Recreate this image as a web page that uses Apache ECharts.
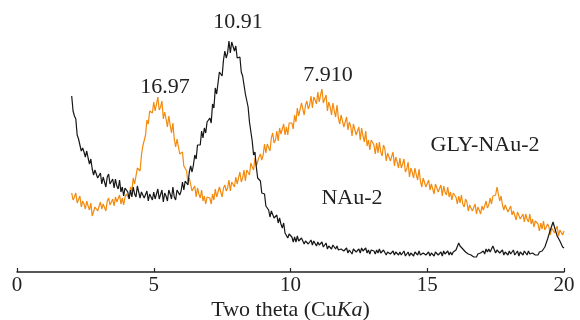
<!DOCTYPE html>
<html>
<head>
<meta charset="utf-8">
<script src="https://cdn.jsdelivr.net/npm/echarts@6/dist/echarts.min.js"></script>
<style>
  html, body { margin: 0; padding: 0; background: #fff; }
  #chart { width: 580px; height: 320px; }
</style>
</head>
<body>
<div id="chart"></div>
<script>
// scan: 2 to 20 degrees two theta, one reading every 0.05 deg
const thetaStart = 2;
const thetaStep = 0.05;
const xTicks = [0, 5, 10, 15, 20];

// NAu-2 (black), intensity in arbitrary units
const nau2 = [
  176,161,156,153,137,133,135,121,124,120,115,121,114,108,113,103,97,102,101,94,
  92,99,88,95,94,85,95,98,88,89,93,84,93,86,83,92,80,85,76,84,
  83,80,73,82,75,85,78,75,86,84,74,80,82,74,75,81,71,78,75,72,
  80,73,78,83,73,75,82,70,79,76,71,82,78,73,85,75,72,82,84,77,
  81,90,82,91,92,87,100,106,100,107,117,113,127,125,127,141,134,144,139,150,
  152,154,149,168,164,184,178,180,200,202,196,212,221,214,219,231,219,230,228,221,
  226,214,213,215,200,196,198,178,179,165,150,148,131,117,120,105,94,96,91,79,
  77,78,66,66,62,55,61,62,54,54,57,49,54,48,44,49,39,41,34,38,
  36,35,30,35,30,36,31,29,34,33,28,31,32,28,29,32,27,31,29,26,
  30,27,28,30,25,25,29,23,26,25,23,27,25,23,26,22,20,23,24,21,
  20,24,19,22,22,18,23,24,20,20,23,19,24,21,20,24,19,22,18,22,
  21,21,18,22,19,23,19,18,22,21,17,20,21,18,18,21,17,20,19,17,
  20,17,19,21,16,17,20,16,19,18,16,20,19,17,21,17,16,19,20,17,
  17,20,16,19,19,16,20,21,17,18,20,16,21,18,17,21,17,20,17,20,
  21,22,23,29,26,28,23,24,20,21,18,20,17,18,15,17,15,18,17,19,
  20,21,18,23,20,23,20,20,26,24,19,22,22,19,18,22,17,20,19,17,
  21,18,20,22,17,18,21,16,20,19,17,21,19,17,21,18,16,19,20,17,
  19,17,20,18,21,20,25,27,33,35,42,44,50,45,44,36,37,31,29,25,
  24
];

// GLY-NAu-2 (orange)
const glyNau2 = [
  79,72,75,79,69,71,76,65,71,68,63,71,66,62,69,56,58,65,67,61,
  63,70,63,68,68,61,71,74,67,68,73,66,75,70,69,77,68,74,67,75,
  78,78,73,85,81,94,88,90,104,105,101,117,126,127,137,152,148,161,161,159,
  170,161,168,175,162,165,171,153,160,153,145,156,147,139,149,133,125,133,131,118,
  117,120,106,108,101,89,94,92,81,81,86,75,84,78,74,82,71,76,68,75,
  76,74,68,78,72,83,75,74,85,83,75,84,87,81,84,92,81,90,88,85,
  95,88,94,100,90,94,102,91,102,100,97,109,105,102,114,106,104,115,118,112,
  117,128,119,128,128,121,134,139,129,132,141,131,144,138,136,148,137,145,137,149,
  151,149,143,157,150,164,156,155,169,167,157,167,171,163,167,176,164,175,172,168,
  180,170,177,183,169,171,177,161,170,165,157,169,161,155,167,154,148,157,157,145,
  147,155,142,150,146,136,148,150,137,139,145,132,144,136,130,141,126,132,122,132,
  131,127,118,129,119,130,120,116,127,123,111,119,121,111,113,120,106,115,110,104,
  114,104,108,113,100,103,110,95,104,100,94,104,97,92,103,91,85,94,94,85,
  86,92,82,88,86,78,88,89,80,81,87,76,86,80,77,85,75,80,72,79,
  78,75,68,76,69,77,68,65,73,70,61,67,69,61,63,68,58,65,62,58,
  66,62,66,71,64,67,74,68,76,77,77,85,78,71,76,67,62,67,67,60,
  60,66,57,61,59,52,60,62,53,54,58,50,58,53,50,58,48,53,45,51,
  50,48,41,49,43,51,42,41,48,45,37,44,45,39,40,46,36,42,40,37,
  41
];

// peak labels (d-spacing, angstrom) and sample names
const peakLabels = ['16.97', '10.91', '7.910'];
const sampleNames = ['GLY-NAu-2', 'NAu-2'];

const serif = "'Liberation Serif', 'Times New Roman', serif";

function toPoints(values) {
  return values.map((v, i) => [+(thetaStart + i * thetaStep).toFixed(2), v]);
}

const chart = echarts.init(document.getElementById('chart'), null, { renderer: 'canvas' });

function label(text, x, y) {
  return {
    type: 'text',
    x: x,
    y: y,
    style: {
      text: text,
      font: '22px ' + serif,
      fill: '#222',
      align: 'center',
      verticalAlign: 'middle',
    },
  };
}

chart.setOption({
  animation: false,
  backgroundColor: '#fff',
  grid: { left: 17, right: 16, top: 20, bottom: 48, outerBoundsMode: 'none' },
  xAxis: {
    type: 'value',
    min: xTicks[0],
    max: xTicks[xTicks.length - 1],
    interval: 5,
    name: 'Two theta (Cu{i|Ka})',
    nameLocation: 'middle',
    nameGap: 27,
    nameMoveOverlap: false,
    nameTextStyle: {
      fontFamily: serif,
      fontSize: 22,
      color: '#222',
      verticalAlign: 'top',
      rich: { i: { fontFamily: serif, fontSize: 22, fontStyle: 'italic', color: '#222' } },
    },
    axisLine: { show: true, onZero: false, lineStyle: { color: '#222', width: 1.5 } },
    axisTick: { show: true, inside: true, length: 4, lineStyle: { color: '#222', width: 1.2 } },
    axisLabel: { fontFamily: serif, fontSize: 21, color: '#222', margin: 3 },
    splitLine: { show: false },
  },
  yAxis: {
    type: 'value',
    min: 0,
    max: 252,
    show: false,
  },
  series: [
    {
      name: sampleNames[0],
      type: 'line',
      data: toPoints(glyNau2),
      showSymbol: false,
      lineStyle: { color: '#f38a0e', width: 1.2 },
    },
    {
      name: sampleNames[1],
      type: 'line',
      data: toPoints(nau2),
      showSymbol: false,
      lineStyle: { color: '#161616', width: 1.2 },
    },
  ],
  graphic: [
    label(peakLabels[0], 165, 87),
    label(peakLabels[1], 238, 22),
    label(peakLabels[2], 328, 75),
    label(sampleNames[0], 485, 145),
    label(sampleNames[1], 352, 198),
  ],
});
</script>
</body>
</html>
